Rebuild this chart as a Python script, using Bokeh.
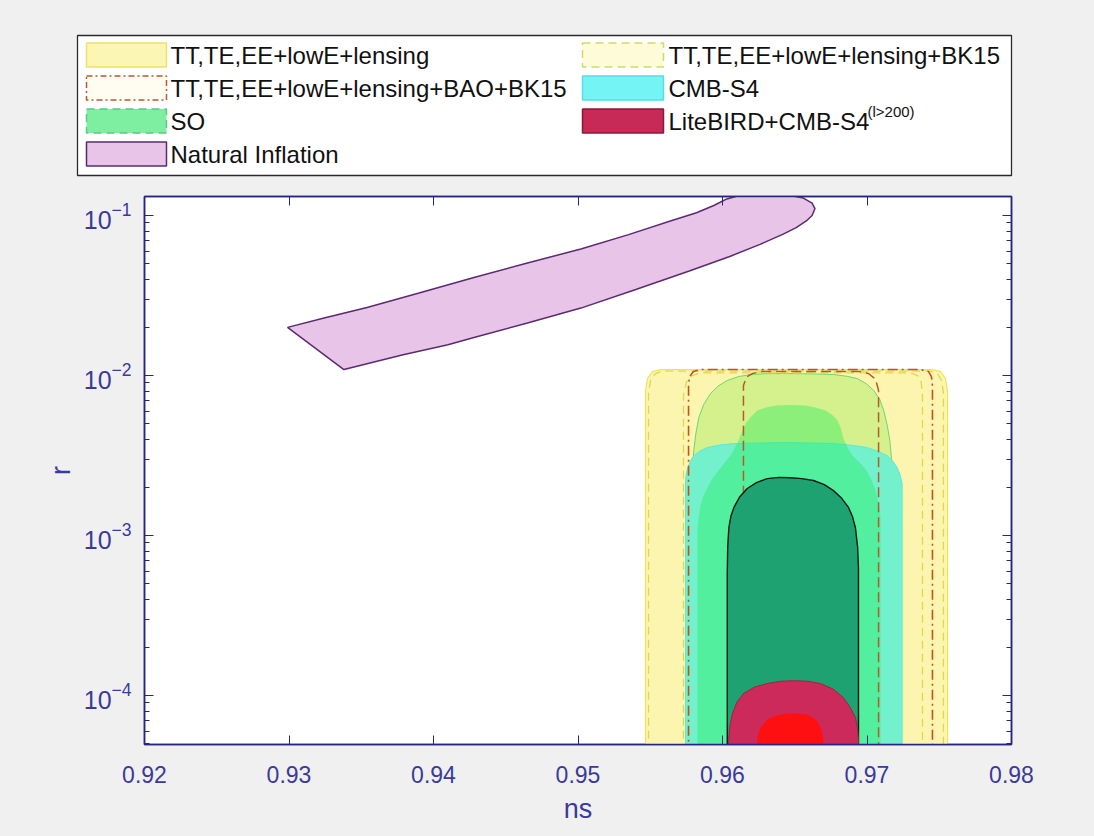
from bokeh.plotting import figure
from bokeh.layouts import column
from bokeh.models import Range1d, FixedTicker, LinearAxis, LogAxis
from bokeh.embed import file_html
from bokeh.resources import INLINE
from bokeh.core.properties import value

# ---------------- data ----------------
x_ticks = [0.92, 0.93, 0.94, 0.95, 0.96, 0.97, 0.98]
y_major = [1e-4, 1e-3, 1e-2, 1e-1]
y_minor_mant = [2, 3, 4, 5, 6, 7, 8, 9]
y_minor_exp = [-5, -4, -3, -2, -1]

# TT,TE,EE+lowE+lensing (outer)
tt2_ns = [0.95467, 0.95467, 0.95481, 0.95516, 0.95571, 0.97453, 0.97509, 0.97543, 0.97557, 0.97557]
tt2_r = [1e-5, 0.00806, 0.00958, 0.01059, 0.0109, 0.0109, 0.01059, 0.00958, 0.00806, 1e-5]
# TT,TE,EE+lowE+lensing+BK15
bk2_ns = [0.95488, 0.95488, 0.95502, 0.95536, 0.95585, 0.97439, 0.97488, 0.97516, 0.97529, 0.97529]
bk2_r = [1e-5, 0.0078, 0.0093, 0.0103, 0.01065, 0.01065, 0.0103, 0.0093, 0.0078, 1e-5]
bk1_ns = [0.9573, 0.9573, 0.9575, 0.9579, 0.9585, 0.9730, 0.9735, 0.97375, 0.97384, 0.97384]
bk1_r = [1e-5, 0.0075, 0.0091, 0.0100, 0.0104, 0.0104, 0.0100, 0.0091, 0.0075, 1e-5]
# TT,TE,EE+lowE+lensing+BAO+BK15
bao2_ns = [0.95765, 0.95765, 0.95772, 0.95799, 0.95848, 0.9737, 0.97426, 0.97446, 0.97453, 0.97453]
bao2_r = [1e-5, 0.00866, 0.00986, 0.01059, 0.0109, 0.0109, 0.01059, 0.00986, 0.00866, 1e-5]
bao1_ns = [0.96145, 0.96145, 0.96166, 0.96208, 0.96263, 0.96955, 0.9701, 0.97059, 0.9708, 0.9708]
bao1_r = [1e-5, 0.00866, 0.0098, 0.0103, 0.01059, 0.01059, 0.0103, 0.0095, 0.00806, 1e-5]
# SO
so2_ns = [0.9579, 0.9579, 0.95795, 0.95801, 0.95815, 0.95836, 0.95870, 0.95917, 0.95970, 0.96032,
          0.96110, 0.96194, 0.96300, 0.96422, 0.96600, 0.96768, 0.96860, 0.96932, 0.96995,
          0.97047, 0.97088, 0.97116, 0.97140, 0.97158, 0.97170, 0.97174, 0.97181]
so2_r = [1e-5, 0.00221, 0.00280, 0.0034, 0.00430, 0.00546, 0.00660, 0.00772, 0.00860, 0.00931,
         0.00985, 0.01015, 0.01027, 0.01029, 0.01025, 0.01015, 0.00990, 0.00958, 0.00890,
         0.00806, 0.00710, 0.00604, 0.00490, 0.00393, 0.00300, 0.00221, 1e-5]
so1_ns = [0.95827, 0.95827, 0.95835, 0.95848, 0.95868, 0.95896, 0.95932, 0.95973, 0.96015, 0.96055,
          0.96085, 0.96111, 0.96135, 0.9616, 0.96198, 0.96242, 0.96300, 0.96367, 0.96470, 0.96574,
          0.96650, 0.96713, 0.96760, 0.96796, 0.96820, 0.96837, 0.96865, 0.969, 0.96950, 0.96997,
          0.97032, 0.97059, 0.97080, 0.97093, 0.97093]
so1_r = [1e-5, 0.00107, 0.00130, 0.00154, 0.00177, 0.002, 0.00228, 0.00255, 0.00285, 0.00316,
         0.00352, 0.00393, 0.00447, 0.00501, 0.00555, 0.00604, 0.00632, 0.00649, 0.00655, 0.00649,
         0.00630, 0.00604, 0.00568, 0.00524, 0.00465, 0.00404, 0.00355, 0.00316, 0.00285, 0.00255,
         0.00222, 0.00191, 0.00160, 0.00133, 1e-5]
# CMB-S4
s42_ns = [0.95744, 0.95744, 0.95750, 0.9576, 0.95778, 0.95801, 0.95845, 0.95894, 0.95980, 0.96078,
          0.96448, 0.9677, 0.96890, 0.97001, 0.97075, 0.9714, 0.97180, 0.97209, 0.97230, 0.97243, 0.97243]
s42_r = [1e-5, 0.00221, 0.00245, 0.00266, 0.00292, 0.00316, 0.00338, 0.00355, 0.00368, 0.00376,
         0.00382, 0.00376, 0.00367, 0.00355, 0.00337, 0.00316, 0.00291, 0.00266, 0.00238, 0.00211, 1e-5]
s41_ns = [0.96033, 0.96033, 0.96036, 0.96044, 0.96058, 0.96079, 0.96120, 0.96171, 0.96235, 0.96309,
          0.96390, 0.96471, 0.96550, 0.9663, 0.96705, 0.96768, 0.96825, 0.96872, 0.96900, 0.9692,
          0.96935, 0.96941, 0.96941]
s41_r = [1e-5, 0.000579, 0.00085, 0.00112, 0.00132, 0.0015, 0.00175, 0.00197, 0.00214, 0.00227,
         0.00231, 0.0023, 0.00227, 0.00221, 0.00208, 0.00191, 0.00171, 0.0015, 0.00131, 0.00112,
         0.00085, 0.000631, 1e-5]
# LiteBIRD+CMB-S4
lb2_ns = [0.96042, 0.96042, 0.96050, 0.96068, 0.96100, 0.96145, 0.96220, 0.96309, 0.96400, 0.96491,
          0.96590, 0.96678, 0.96765, 0.96837, 0.96885, 0.9692, 0.96935, 0.96941, 0.96941]
lb2_r = [1e-5, 5.24e-5, 6.4e-5, 7.7e-5, 9.1e-5, 0.000103, 0.000113, 0.000119, 0.000123, 0.000124,
         0.000123, 0.000119, 0.000110, 9.7e-5, 8.4e-5, 7.3e-5, 6.2e-5, 5.24e-5, 1e-5]
lb1_ns = [0.9624, 0.9624, 0.96248, 0.96263, 0.96295, 0.96332, 0.96390, 0.96448, 0.96520, 0.96586,
          0.96630, 0.96664, 0.96688, 0.96699, 0.96699]
lb1_r = [1e-5, 5.24e-5, 5.8e-5, 6.31e-5, 6.85e-5, 7.29e-5, 7.58e-5, 7.72e-5, 7.72e-5, 7.61e-5,
         7.25e-5, 6.78e-5, 6.0e-5, 5.24e-5, 1e-5]
# Natural Inflation
ni_ns = [0.9299, 0.9325, 0.9354, 0.9390, 0.9428, 0.9465, 0.9502, 0.9535, 0.9565, 0.9582,
         0.9594, 0.9603, 0.9613, 0.9628, 0.9645, 0.9656, 0.9662, 0.9664, 0.9662, 0.9658,
         0.9651, 0.9642, 0.9626, 0.9605, 0.9577, 0.9540, 0.9502, 0.9465, 0.9428, 0.9410,
         0.9379, 0.9338]
ni_r = [0.0200, 0.0230, 0.0266, 0.0328, 0.0410, 0.0505, 0.0618, 0.0760, 0.0931, 0.1040,
        0.1155, 0.1270, 0.1345, 0.1370, 0.1345, 0.1285, 0.1195, 0.1106, 0.1000, 0.0925,
        0.0841, 0.0765, 0.0660, 0.0555, 0.0450, 0.0345, 0.0264, 0.0213, 0.0173, 0.0156,
        0.0135, 0.0109]

legend_labels = ["TT,TE,EE+lowE+lensing", "TT,TE,EE+lowE+lensing+BK15",
                 "TT,TE,EE+lowE+lensing+BAO+BK15", "CMB-S4",
                 "SO", "LiteBIRD+CMB-S4", "Natural Inflation"]
legend_sup = "(l>200)"

# ---------------- style ----------------
FONT = "Liberation Sans"
BG = "#f0f0f0"
AXC = "#262680"
TXC = "#3a3a9c"

main = figure(frame_width=867, frame_height=548,
              x_range=Range1d(0.92, 0.98), y_range=Range1d(4.95e-5, 0.1315),
              y_axis_type="log", output_backend="svg", toolbar_location=None,
              min_border_left=144, min_border_right=83, min_border_top=4, min_border_bottom=92,
              background_fill_color="white", border_fill_color=BG,
              outline_line_color=AXC, outline_line_width=1.5, frame_align=False)
main.grid.visible = False

y_minor = [m * 10.0 ** e for e in y_minor_exp for m in y_minor_mant]


def style_axis(ax, hidden=False):
    ax.axis_line_color = AXC
    ax.axis_line_width = 1.5
    ax.major_tick_line_color = AXC
    ax.minor_tick_line_color = AXC
    ax.major_tick_in = 9
    ax.major_tick_out = 0
    ax.minor_tick_in = 5
    ax.minor_tick_out = 0
    ax.major_label_text_font = FONT
    ax.major_label_text_color = TXC
    ax.major_label_text_font_size = "23px"
    ax.axis_label_text_font = FONT
    ax.axis_label_text_color = TXC
    ax.axis_label_text_font_size = "27px"
    ax.axis_label_text_font_style = "normal"
    if hidden:
        ax.major_label_text_alpha = 0
        ax.major_label_text_font_size = "1px"
        ax.major_label_standoff = 0


xa = main.xaxis[0]
xa.ticker = FixedTicker(ticks=x_ticks, minor_ticks=[])
style_axis(xa)
xa.axis_label = "ns"
xa.major_label_standoff = 21
xa.axis_label_standoff = 8

ya = main.yaxis[0]
ya.ticker = FixedTicker(ticks=y_major, minor_ticks=y_minor)
style_axis(ya)
ya.major_label_text_font_size = "25px"
ya.axis_label = "r"
ya.major_label_standoff = 13
ya.axis_label_standoff = 5

top = LinearAxis(ticker=FixedTicker(ticks=x_ticks, minor_ticks=[]))
style_axis(top, hidden=True)
main.add_layout(top, "above")
right = LogAxis(ticker=FixedTicker(ticks=y_major, minor_ticks=y_minor))
style_axis(right, hidden=True)
main.add_layout(right, "right")

# ---------------- contours ----------------
main.patch(tt2_ns, tt2_r, fill_color="#fcf5b0", line_color="#f0e25a", line_width=1.2)
main.patch(so2_ns, so2_r, fill_color="#d4f18e", line_color="#6ed66e", line_width=1.0)
main.patch(s42_ns, s42_r, fill_color="#73f0cc", line_color="#62e6d6", line_width=1.0)
main.patch(so1_ns, so1_r, fill_color="#21ee5c", fill_alpha=0.4, line_alpha=0)
main.patch(bk2_ns, bk2_r, fill_alpha=0, line_color="#dcd850", line_width=1.3, line_dash="8 5")
main.patch(bk1_ns, bk1_r, fill_alpha=0, line_color="#dcd850", line_width=1.3, line_dash="8 5")
main.patch(bao2_ns, bao2_r, fill_alpha=0, line_color="#c0521e", line_width=1.6, line_dash="10 4 2 4")
main.patch(bao1_ns, bao1_r, fill_alpha=0, line_color="#b85a28", line_width=1.5, line_dash="10 5")
main.patch(s41_ns, s41_r, fill_color="#1ea272", line_color="#0a1a10", line_width=1.4)
main.patch(lb2_ns, lb2_r, fill_color="#cc2a5a", line_color="#a8203f", line_width=1.0)
main.patch(lb1_ns, lb1_r, fill_color="#ff1010", line_alpha=0)
main.patch(ni_ns, ni_r, fill_color="#e8c4e8", line_color="#5a2a70", line_width=1.5)

# ---------------- legend (separate panel above, page-pixel coordinates) ----------------
leg = figure(width=1094, height=192, x_range=Range1d(0, 1094), y_range=Range1d(192, 0),
             output_backend="svg", toolbar_location=None, min_border=0,
             min_border_left=0, min_border_right=0, min_border_top=0, min_border_bottom=0,
             x_axis_location=None, y_axis_location=None, frame_align=False,
             background_fill_color=BG, border_fill_color=BG, outline_line_color=None)
leg.grid.visible = False

leg.quad(left=[77], right=[1011], top=[35], bottom=[175], fill_color="white",
         line_color="#2a2a2a", line_width=1.3)

col_patch = [(86, 166), (582, 663)]
col_text = [170, 668]
row_y = [54.5, 87.5, 120.5, 153.5]
slots = [(0, 0), (1, 0), (0, 1), (1, 1), (0, 2), (1, 2), (0, 3)]
styles = [
    dict(fill_color="#fcf6b4", line_color="#f0e068", line_dash="solid"),
    dict(fill_color="#fdfbd8", line_color="#d2da68", line_dash="8 5"),
    dict(fill_color="#fffdf2", line_color="#b85a28", line_dash="6 3 2 3"),
    dict(fill_color="#74f4f4", line_color="#58dce6", line_dash="solid"),
    dict(fill_color="#7eeea0", line_color="#5cc884", line_dash="8 5"),
    dict(fill_color="#c82a58", line_color="#8a1a3a", line_dash="solid"),
    dict(fill_color="#e8c4e8", line_color="#5a2a70", line_dash="solid"),
]
for lab, (c, rr), st in zip(legend_labels, slots, styles):
    y = row_y[rr]
    leg.quad(left=[col_patch[c][0]], right=[col_patch[c][1]], top=[y - 12], bottom=[y + 12],
             line_width=1.5, **st)
    leg.text(x=[col_text[c]], y=[y], text=[lab], text_font=value(FONT),
             text_font_size="24px", text_baseline="middle", text_align="left",
             text_color="#111111")
leg.text(x=[867], y=[row_y[2] - 10], text=[legend_sup], text_font=value(FONT),
         text_font_size="15px", text_baseline="middle", text_align="left", text_color="#111111")

layout = column(leg, main, spacing=0, styles={"background-color": BG})
open("out.html", "w").write(file_html(layout, INLINE))
